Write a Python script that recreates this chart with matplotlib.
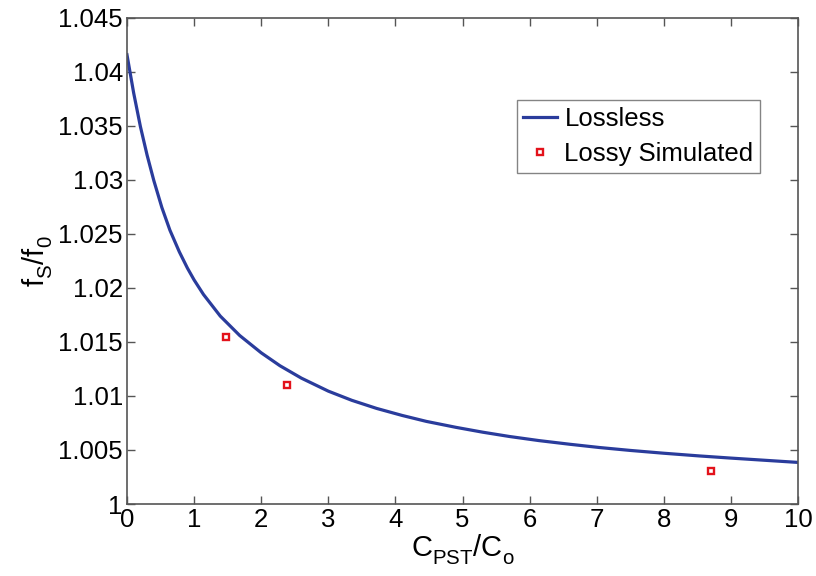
import matplotlib
matplotlib.use("Agg")
import matplotlib.pyplot as plt
from matplotlib import _mathtext

plt.rcParams['font.family'] = ['Liberation Sans', 'DejaVu Sans']
plt.rcParams['mathtext.fontset'] = 'custom'
plt.rcParams['mathtext.rm'] = 'Liberation Sans'
plt.rcParams['mathtext.it'] = 'Liberation Sans'
# drop subscripts a little lower, as in MATLAB-style labels
_mathtext.FontConstantsBase.sub1 = 0.55
_mathtext.FontConstantsBase.sub2 = 0.7

# Lossless frequency ratio versus capacitance ratio
cap_ratio = [0.0, 0.1, 0.2, 0.3, 0.4, 0.52, 0.64, 0.78, 0.9, 1.0, 1.14,
             1.39, 1.68, 2.0, 2.28, 2.6, 3.0, 3.35, 3.72, 4.1, 4.46, 4.9,
             5.3, 5.7, 6.14, 6.6, 7.04, 7.5, 8.0, 8.53, 9.0, 9.5, 10.0]
freq_ratio = [1.04160, 1.03805, 1.03495, 1.03230, 1.02995, 1.02745,
              1.02535, 1.02335, 1.02185, 1.02075, 1.01940, 1.01740,
              1.01560, 1.01400, 1.01280, 1.01165, 1.01045, 1.00960,
              1.00885, 1.00820, 1.00765, 1.00710, 1.00665, 1.00625,
              1.00587, 1.00553, 1.00523, 1.00496, 1.00470, 1.00445,
              1.00425, 1.00405, 1.00385]

# Lossy simulation results
sim_ratio = [1.47, 2.38, 8.70]
sim_freq = [1.0155, 1.0110, 1.0031]

xticks = list(range(0, 11))
yticks = [1.0, 1.005, 1.01, 1.015, 1.02, 1.025, 1.03, 1.035, 1.04, 1.045]
ytick_labels = ['1', '1.005', '1.01', '1.015', '1.02', '1.025', '1.03',
                '1.035', '1.04', '1.045']

fig = plt.figure(figsize=(8.16, 5.76), dpi=100)
ax = fig.add_axes([0.1556, 0.125, 0.8224, 0.8438])

ax.plot(cap_ratio, freq_ratio, color='#2a3c9c', lw=2.3, label='Lossless',
        solid_joinstyle='round')
ax.plot(sim_ratio, sim_freq, ls='none', marker='s', ms=4.2, mew=1.7,
        mec='#e3121b', mfc='white', label='Lossy Simulated')

ax.set_xlim(0, 10)
ax.set_ylim(1.0, 1.045)
ax.set_xticks(xticks)
ax.set_xticklabels([str(t) for t in xticks])
ax.set_yticks(yticks)
ax.set_yticklabels(ytick_labels)

ax.tick_params(direction='in', length=6, width=1.0, color='#555555',
               labelsize=18.5, labelcolor='black', top=True, right=True,
               pad=3)
for s in ax.spines.values():
    s.set_color('#555555')
    s.set_linewidth(1.2)

ax.set_xlabel(r'$\mathregular{C_{PST}/C_o}$', fontsize=21, labelpad=0)
ax.set_ylabel(r'$\mathregular{f_S/f_0}$', fontsize=21, labelpad=2)

leg = ax.legend(loc='upper left', bbox_to_anchor=(0.581, 0.831),
                fontsize=18.5, frameon=True, fancybox=False, shadow=False,
                handlelength=1.3, handletextpad=0.3, borderpad=0.25,
                labelspacing=0.45, borderaxespad=0)
leg.get_frame().set_edgecolor('#666666')
leg.get_frame().set_linewidth(1.0)

fig.savefig('out.png', dpi=100)
